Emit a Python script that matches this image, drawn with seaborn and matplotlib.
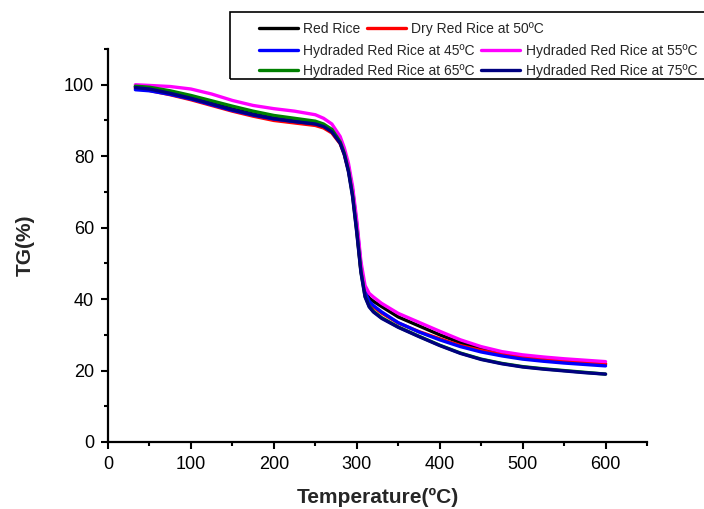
import numpy as np
import pandas as pd
import matplotlib
matplotlib.use("Agg")
import matplotlib.pyplot as plt
import seaborn as sns
from matplotlib.patches import Rectangle
from matplotlib.ticker import MultipleLocator

# ---------------- data ----------------
temperature = [33, 50, 75, 100, 125, 150, 175, 200, 225, 250, 260, 270, 280, 285,
               290, 295, 300, 305, 310, 315, 320, 330, 350, 375, 400, 425, 450,
               475, 500, 525, 550, 575, 600]

red_rice = [99.5, 99.0, 97.8, 96.4, 94.8, 93.2, 91.8, 90.6, 89.8, 89.0, 88.2, 86.8,
            83.8, 80.8, 76.5, 70.0, 60.0, 48.5, 42.3, 40.3, 39.4, 37.9, 35.0, 32.5,
            30.0, 27.8, 26.0, 24.7, 23.8, 23.1, 22.6, 22.2, 21.8]
dry_red_rice_50 = [99.0, 98.4, 97.2, 95.8, 94.2, 92.6, 91.2, 90.0, 89.3, 88.6, 87.9,
                   86.5, 83.5, 80.5, 76.0, 69.5, 59.5, 48.0, 41.5, 38.8, 37.8, 36.1,
                   33.3, 30.9, 28.9, 27.0, 25.6, 24.5, 23.7, 23.0, 22.6, 22.2, 21.9]
hyd_red_rice_45 = [98.6, 98.3, 97.3, 96.0, 94.4, 92.8, 91.5, 90.4, 89.7, 89.1, 88.5,
                   87.2, 84.2, 81.2, 77.0, 70.5, 61.0, 49.5, 42.0, 39.4, 38.2, 36.4,
                   33.4, 30.8, 28.6, 26.7, 25.2, 24.1, 23.2, 22.6, 22.1, 21.7, 21.3]
hyd_red_rice_55 = [100.0, 99.8, 99.5, 98.8, 97.4, 95.6, 94.2, 93.3, 92.6, 91.6, 90.6,
                   89.0, 85.5, 82.3, 78.0, 71.5, 62.0, 50.5, 43.8, 41.6, 40.6, 38.8,
                   36.0, 33.5, 31.0, 28.6, 26.7, 25.3, 24.4, 23.8, 23.3, 22.9, 22.5]
hyd_red_rice_65 = [99.6, 99.3, 98.3, 97.0, 95.5, 94.0, 92.6, 91.4, 90.6, 89.8, 89.0,
                   87.5, 84.0, 80.8, 76.0, 69.0, 59.0, 47.8, 40.8, 38.0, 36.6, 34.8,
                   32.2, 29.6, 27.1, 24.9, 23.2, 22.0, 21.1, 20.5, 20.0, 19.5, 19.0]
hyd_red_rice_75 = [99.2, 98.8, 97.6, 96.2, 94.6, 93.0, 91.6, 90.5, 89.7, 89.0, 88.3,
                   86.8, 83.6, 80.4, 75.6, 68.6, 58.6, 47.5, 40.6, 37.8, 36.4, 34.6,
                   32.1, 29.5, 27.0, 24.8, 23.1, 21.9, 21.0, 20.4, 19.9, 19.4, 19.0]

series_names = ["Red Rice", "Dry Red Rice at 50ºC", "Hydraded Red Rice at 45ºC",
                "Hydraded Red Rice at 55ºC", "Hydraded Red Rice at 65ºC",
                "Hydraded Red Rice at 75ºC"]
series_values = [red_rice, dry_red_rice_50, hyd_red_rice_45, hyd_red_rice_55,
                 hyd_red_rice_65, hyd_red_rice_75]
series_colors = ["#000000", "#FF0000", "#0000FF", "#FF00FF", "#008000", "#000080"]

x_ticks = [0, 100, 200, 300, 400, 500, 600]
y_ticks = [0, 20, 40, 60, 80, 100]

# ---------------- build long-form table ----------------
rows = []
for name, vals in zip(series_names, series_values):
    for t, v in zip(temperature, vals):
        rows.append({"Temperature": t, "TG": v, "Sample": name})
df = pd.DataFrame(rows)

sns.set_theme(style="ticks")
plt.rcParams['font.family'] = ['Liberation Sans', 'DejaVu Sans']

W, H = 704, 509
fig = plt.figure(figsize=(W / 100, H / 100), dpi=100)
ax = fig.add_axes([108 / W, 1 - 442 / H, (647 - 108) / W, (442 - 49) / H])

sns.lineplot(data=df, x="Temperature", y="TG", hue="Sample",
             hue_order=series_names, palette=series_colors, estimator=None,
             errorbar=None, linewidth=2.4, legend=False, ax=ax)

ax.set_xlim(0, 650)
ax.set_ylim(0, 110)
ax.set_xticks(x_ticks)
ax.set_yticks(y_ticks)
ax.xaxis.set_minor_locator(MultipleLocator(50))
ax.yaxis.set_minor_locator(MultipleLocator(10))
ax.tick_params(which="major", direction="out", length=5, width=1.5,
               labelsize=13, colors="black", pad=5)
ax.tick_params(which="minor", direction="out", length=3, width=1.5, colors="black")
for s in ["top", "right"]:
    ax.spines[s].set_visible(False)
for s in ["left", "bottom"]:
    ax.spines[s].set_linewidth(1.6)
    ax.spines[s].set_color("black")

ax.set_xlabel("Temperature(ºC)", fontsize=15, fontweight="bold", labelpad=11)
ax.set_ylabel("TG(%)", fontsize=15, fontweight="bold", labelpad=21)

# ---------------- legend (three rows, as in the reference) ----------------
lines = ax.get_lines()
row_y = [28.7, 50.7, 71.0]
for i, yy in enumerate(row_y):
    hs = lines[2 * i:2 * i + 2]
    labs = series_names[2 * i:2 * i + 2]
    fig.legend(hs, labs, ncol=2, loc="center left",
               bbox_to_anchor=(259 / W, 1 - yy / H), frameon=False, fontsize=10,
               handlelength=2.8, handletextpad=0.4, columnspacing=0.45,
               borderpad=0, borderaxespad=0)
fig.patches.append(Rectangle((230 / W, 1 - 79 / H), 1.0, 67 / H,
                             transform=fig.transFigure, fill=False,
                             edgecolor="black", linewidth=1.2))

fig.savefig("out.png", dpi=100)
